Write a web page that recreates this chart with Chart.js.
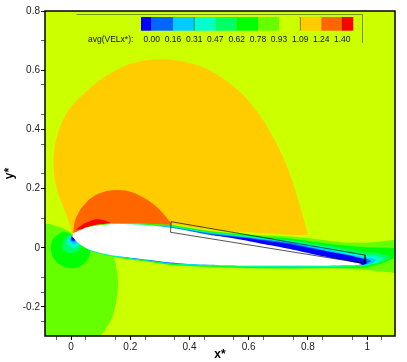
<!DOCTYPE html>
<html>
<head>
<meta charset="utf-8">
<script src="https://cdn.jsdelivr.net/npm/chart.js@4"></script>
<style>
  html, body { margin: 0; padding: 0; background: #fff; }
  canvas { display: block; }
</style>
</head>
<body>
<canvas id="chart" width="407" height="362"></canvas>
<script>
// axis ticks
const xTicks = [-0.05, 0, 0.05, 0.15, 0.2, 0.25, 0.35, 0.4, 0.45, 0.55, 0.6, 0.65, 0.75, 0.8, 0.85, 0.95, 1, 1.05]
const yTicks = [0.8, 0.7, 0.6, 0.55, 0.45, 0.4, 0.35, 0.25, 0.2, 0.1, 0, -0.1, -0.15, -0.2, -0.25]
const xLabelled = [0, 0.2, 0.4, 0.6, 0.8, 1]
const yLabelled = [0.8, 0.6, 0.4, 0.2, 0, -0.2]

// legend
const legendLevels = ['0.00', '0.16', '0.31', '0.47', '0.62', '0.78', '0.93', '1.09', '1.24', '1.40']
const legendColors = ['#0000ff', '#0066ff', '#00ccff', '#00ffcc', '#00ff66', '#00ff00', '#66ff00', '#ccff00', '#ffcc00', '#ff6600', '#ff0000']

// contour regions, [x*, y*]
const domain = [[-0.088, 0.8], [1.094, 0.8], [1.094, -0.298], [-0.088, -0.298]]
const teardrop = [[0.005, 0.046], [-0.015, 0.110], [-0.035, 0.161], [-0.051, 0.212], [-0.059, 0.279], [-0.054, 0.347],
  [-0.041, 0.398], [-0.024, 0.438], [0.002, 0.479], [0.042, 0.519], [0.098, 0.567], [0.152, 0.600],
  [0.216, 0.626], [0.297, 0.637], [0.378, 0.629], [0.459, 0.604], [0.520, 0.567], [0.571, 0.526], [0.611, 0.482], [0.649, 0.431],
  [0.682, 0.374], [0.713, 0.313], [0.740, 0.246], [0.764, 0.171], [0.784, 0.104], [0.797, 0.056], [0.799, 0.050],
  [0.791, 0.043], [0.639, 0.050], [0.470, 0.060], [0.334, 0.080], [0.176, 0.087], [0.084, 0.080], [0.030, 0.067]]
const dome = [[0.007, 0.050], [0.014, 0.094], [0.037, 0.137], [0.071, 0.171], [0.115, 0.190], [0.159, 0.195], [0.206, 0.188],
  [0.253, 0.165], [0.294, 0.134], [0.321, 0.104], [0.338, 0.077], [0.176, 0.080], [0.084, 0.073]]
const suctionPeak = [[0.014, 0.060], [0.047, 0.083], [0.081, 0.096], [0.108, 0.094], [0.132, 0.085], [0.132, 0.077], [0.064, 0.067]]
const lowerLeft = [[-0.088, 0.082], [-0.071, 0.080], [-0.030, 0.067], [-0.003, 0.053], [0.007, 0.040], [0.064, -0.008],
  [0.142, -0.031], [0.147, -0.041], [0.152, -0.058], [0.154, -0.075], [0.157, -0.092], [0.158, -0.109], [0.159, -0.126],
  [0.158, -0.143], [0.155, -0.167], [0.150, -0.195], [0.142, -0.227], [0.132, -0.251], [0.115, -0.278], [0.098, -0.298],
  [-0.088, -0.298]]

const band66 = [[0.044, 0.067], [0.084, 0.078], [0.132, 0.083], [0.176, 0.084], [0.253, 0.081], [0.334, 0.078], [0.470, 0.057],
  [0.605, 0.045], [0.740, 0.038], [0.797, 0.033], [0.875, 0.023], [0.919, 0.018], [1.0, 0.017], [1.044, 0.021], [1.1, 0.028],
  [1.1, -0.086], [1.044, -0.079], [1.0, -0.075], [0.885, -0.070], [0.740, -0.071], [0.605, -0.070], [0.436, -0.065],
  [0.334, -0.058], [0.267, -0.048], [0.182, -0.038], [0.132, -0.030], [0.064, -0.013], [0.024, 0.012]]
const band00 = [[0.044, 0.066], [0.084, 0.076], [0.176, 0.082], [0.334, 0.077], [0.470, 0.055], [0.605, 0.041], [0.740, 0.031],
  [0.875, 0.0125], [0.990, 0.002], [1.037, 0.001], [1.1, -0.001], [1.1, -0.031], [1.044, -0.055], [0.990, -0.067],
  [0.885, -0.067], [0.740, -0.069], [0.605, -0.068], [0.436, -0.062], [0.334, -0.057], [0.267, -0.047], [0.182, -0.036],
  [0.132, -0.028], [0.064, -0.011], [0.024, 0.014]]
const band06 = [[0.044, 0.065], [0.084, 0.075], [0.176, 0.081], [0.334, 0.075], [0.470, 0.053], [0.605, 0.039], [0.740, 0.026],
  [0.875, 0.0057], [0.990, -0.0145], [1.037, -0.018], [1.071, -0.028], [1.078, -0.035], [1.037, -0.052], [0.990, -0.062],
  [0.885, -0.065], [0.740, -0.066], [0.605, -0.065], [0.436, -0.060], [0.334, -0.055], [0.267, -0.045], [0.182, -0.035],
  [0.132, -0.027], [0.064, -0.010], [0.024, 0.015]]
const band0c = [[0.044, 0.064], [0.084, 0.074], [0.176, 0.080], [0.334, 0.073], [0.470, 0.051], [0.605, 0.037], [0.740, 0.023],
  [0.875, -0.001], [0.990, -0.025], [1.027, -0.026], [1.057, -0.038], [1.027, -0.053], [0.990, -0.060], [0.885, -0.0635],
  [0.740, -0.0635], [0.605, -0.063], [0.436, -0.059], [0.334, -0.054], [0.267, -0.044], [0.182, -0.034], [0.132, -0.026],
  [0.064, -0.0095], [0.024, 0.016]]
const bandC = [[0.044, 0.063], [0.084, 0.073], [0.176, 0.079], [0.334, 0.072], [0.470, 0.050], [0.605, 0.0355], [0.740, 0.019],
  [0.875, -0.008], [0.990, -0.033], [1.017, -0.035], [1.034, -0.042], [1.017, -0.052], [0.990, -0.058], [0.885, -0.061],
  [0.740, -0.062], [0.605, -0.061], [0.436, -0.058], [0.334, -0.053], [0.267, -0.043], [0.182, -0.033], [0.132, -0.025],
  [0.064, -0.009], [0.024, 0.017]]
const band6 = [[0.084, 0.072], [0.176, 0.078], [0.334, 0.070], [0.470, 0.048], [0.605, 0.033], [0.740, 0.016], [0.875, -0.0135],
  [0.976, -0.035], [0.997, -0.0365], [1.014, -0.045], [0.997, -0.055], [0.976, -0.058], [0.885, -0.059], [0.740, -0.060],
  [0.605, -0.060], [0.436, -0.056], [0.334, -0.052], [0.182, -0.032]]
const band0 = [[0.470, 0.045], [0.605, 0.031], [0.740, 0.012], [0.875, -0.0145], [0.943, -0.026], [0.983, -0.036],
  [0.997, -0.045], [0.999, -0.0517], [0.986, -0.058], [0.909, -0.058], [0.740, -0.055], [0.470, -0.040]]

const noseC1 = [[0.003, 0.046], [-0.024, 0.053], [-0.047, 0.043], [-0.064, 0.023], [-0.068, -0.004], [-0.061, -0.031],
  [-0.041, -0.055], [-0.003, -0.069], [0.030, -0.062], [0.054, -0.042], [0.064, -0.018], [0.061, 0.002], [0.030, 0.033]]
const noseC2 = [[0.003, 0.043], [-0.014, 0.040], [-0.025, 0.026], [-0.030, 0.009], [-0.024, -0.008], [-0.007, -0.017],
  [0.014, -0.017], [0.027, -0.006], [0.034, 0.006], [0.024, 0.033]]
const noseC3 = [[0.003, 0.040], [-0.007, 0.031], [-0.014, 0.021], [-0.010, 0.009], [0.003, 0.002], [0.017, 0.002],
  [0.027, 0.009], [0.017, 0.033]]
const noseC4 = [[0.003, 0.038], [-0.003, 0.031], [-0.005, 0.024], [0, 0.016], [0.010, 0.012], [0.020, 0.016], [0.014, 0.036]]
const noseC5 = [[0.005, 0.042], [0, 0.036], [-0.001, 0.026], [0.006, 0.021], [0.015, 0.022], [0.014, 0.038]]
const noseC6 = [[0.005, 0.042], [0.002, 0.036], [0.001, 0.028], [0.006, 0.024], [0.013, 0.026], [0.012, 0.038]]

const airfoil = [[0.004, 0.037], [0.005, 0.043], [0.010, 0.050], [0.024, 0.057], [0.044, 0.065], [0.064, 0.071], [0.084, 0.0746],
  [0.132, 0.0793], [0.176, 0.080], [0.253, 0.0767], [0.334, 0.0682], [0.402, 0.056], [0.470, 0.043], [0.537, 0.034],
  [0.605, 0.0216], [0.672, 0.0084], [0.740, -0.0044], [0.807, -0.0196], [0.875, -0.0338], [0.943, -0.046], [0.983, -0.055],
  [0.970, -0.0584], [0.909, -0.0595], [0.774, -0.0608], [0.605, -0.0608], [0.503, -0.059], [0.402, -0.0551], [0.334, -0.0500],
  [0.267, -0.0416], [0.182, -0.0314], [0.132, -0.0247], [0.064, -0.0078], [0.044, 0.0024], [0.024, 0.0159], [0.010, 0.0311]]
const boxOutline = [[0.338, 0.0882], [0.993, -0.0246], [0.993, -0.0534], [0.336, 0.0524], [0.338, 0.0882]]

const layers = [
  { pts: domain, color: '#ccff00' },
  { pts: teardrop, color: '#ffcc00', tension: 0.4 },
  { pts: dome, color: '#ff6600', tension: 0.3 },
  { pts: suctionPeak, color: '#ff0000', tension: 0.2 },
  { pts: lowerLeft, color: '#66ff00' },
  { pts: band66, color: '#66ff00' },
  { pts: band00, color: '#00ff00' },
  { pts: band06, color: '#00ff66' },
  { pts: band0c, color: '#00ffcc' },
  { pts: bandC, color: '#00ccff' },
  { pts: band6, color: '#0066ff' },
  { pts: band0, color: '#0000ff' },
  { pts: noseC1, color: '#00ff00', tension: 0.35 },
  { pts: noseC2, color: '#00ff66', tension: 0.35 },
  { pts: noseC3, color: '#00ffcc', tension: 0.35 },
  { pts: noseC4, color: '#00ccff', tension: 0.35 },
  { pts: noseC5, color: '#0066ff', tension: 0.3 },
  { pts: noseC6, color: '#0000ff', tension: 0.3 },
  { pts: airfoil, color: '#ffffff', tension: 0.2 }
]

const datasets = layers.map(l => ({
  data: l.pts.map(p => ({ x: p[0], y: p[1] })),
  showLine: true,
  fill: 'shape',
  backgroundColor: l.color,
  borderWidth: 0,
  pointRadius: 0,
  tension: l.tension || 0
}))
datasets.push({
  data: boxOutline.map(p => ({ x: p[0], y: p[1] })),
  showLine: true,
  fill: false,
  borderColor: 'rgba(0,0,0,0.75)',
  borderWidth: 0.9,
  pointRadius: 0
})
// chart.js paints the first dataset last, so flip the painter's order
datasets.reverse()

const same = (list, v) => list.some(t => Math.abs(t - v) < 1e-6)

const framePlugin = {
  id: 'frame',
  afterDraw(chart) {
    const ctx = chart.ctx
    const a = chart.chartArea
    ctx.save()
    ctx.strokeStyle = '#000'
    ctx.lineWidth = 1.5
    ctx.strokeRect(a.left, a.top, a.right - a.left, a.bottom - a.top)

    // contour legend
    const edges = [141, 151.7, 173, 194.3, 215.3, 236.7, 258, 279, 300.3, 321.3, 342.3, 353.3]
    legendColors.forEach((c, i) => {
      ctx.fillStyle = c
      ctx.fillRect(edges[i], 17, edges[i + 1] - edges[i], 13.7)
    })
    ctx.strokeStyle = 'rgba(0,0,0,0.6)'
    ctx.lineWidth = 0.7
    ctx.beginPath()
    ctx.moveTo(76.5, 14.5); ctx.lineTo(362.5, 14.5); ctx.lineTo(362.5, 43)
    ctx.moveTo(194.3, 17); ctx.lineTo(194.3, 30.7)
    ctx.moveTo(300.3, 17); ctx.lineTo(300.3, 30.7)
    ctx.moveTo(342.3, 17); ctx.lineTo(342.3, 30.7)
    ctx.stroke()

    ctx.fillStyle = '#111'
    ctx.font = '8.5px "Liberation Sans"'
    ctx.textBaseline = 'alphabetic'
    ctx.textAlign = 'center'
    legendLevels.forEach((t, i) => ctx.fillText(t, edges[i + 1], 41.5))
    ctx.textAlign = 'left'
    ctx.fillText('avg(VELx*):', 88, 41.5)
    ctx.restore()
  }
}

new Chart(document.getElementById('chart'), {
  type: 'scatter',
  data: { datasets },
  plugins: [framePlugin],
  options: {
    responsive: false,
    animation: false,
    layout: { padding: { top: 11, right: 12, bottom: 0, left: 0 } },
    plugins: { legend: { display: false }, tooltip: { enabled: false } },
    scales: {
      x: {
        type: 'linear',
        min: -0.088,
        max: 1.094,
        afterFit: s => { s.height = 26 },
        afterBuildTicks: s => { s.ticks = xTicks.map(v => ({ value: v })) },
        border: { display: false },
        grid: {
          drawOnChartArea: false,
          tickLength: 4,
          tickColor: c => same(xLabelled, c.tick.value) ? '#000' : '#666'
        },
        ticks: {
          autoSkip: false,
          maxRotation: 0,
          padding: 1,
          color: '#222',
          font: { family: '"Liberation Sans"', size: 10 },
          callback: v => same(xLabelled, v) ? String(+v.toFixed(1)) : ''
        },
        title: { display: true, text: 'x*', color: '#000', padding: 0, font: { family: '"Liberation Sans"', size: 12, weight: 'bold' } }
      },
      y: {
        type: 'linear',
        min: -0.298,
        max: 0.8,
        afterFit: s => { s.width = 45 },
        afterBuildTicks: s => { s.ticks = yTicks.map(v => ({ value: v })) },
        border: { display: false },
        grid: {
          drawOnChartArea: false,
          tickLength: 4,
          tickColor: c => same(yLabelled, c.tick.value) ? '#000' : '#666'
        },
        ticks: {
          autoSkip: false,
          padding: 1,
          color: '#222',
          font: { family: '"Liberation Sans"', size: 10 },
          callback: v => same(yLabelled, v) ? String(+v.toFixed(1)) : ''
        },
        title: { display: true, text: 'y*', color: '#000', padding: 2, font: { family: '"Liberation Sans"', size: 12, weight: 'bold' } }
      }
    }
  }
})
</script>
</body>
</html>
